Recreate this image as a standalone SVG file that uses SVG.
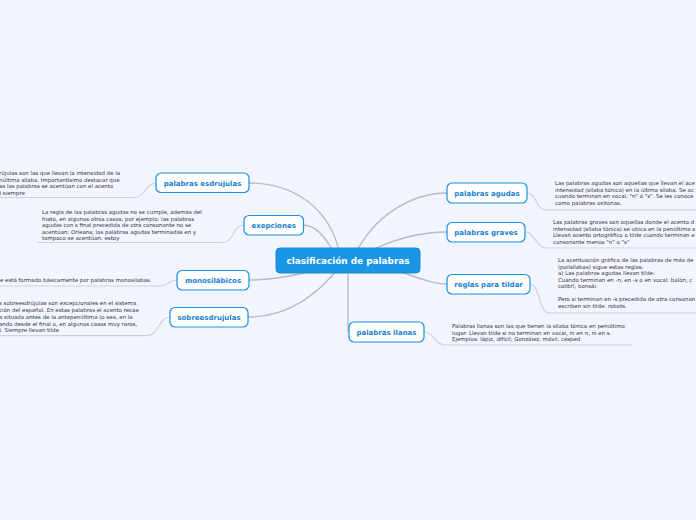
<svg xmlns="http://www.w3.org/2000/svg" width="696" height="520" viewBox="0 0 696 520">
<style>
.bg{fill:#f3f5fe}
.conn{fill:none;stroke:#b9bac6;stroke-width:1.4}
.sub{fill:none;stroke:#cfd1dc;stroke-width:1.2}
.node rect{fill:#ffffff;stroke:#1a8fe3;stroke-width:1.2}
.node text{font-family:"DejaVu Sans",Verdana,sans-serif;font-size:7px;font-weight:bold;fill:#1a7fd4;text-anchor:middle}
.root rect{fill:#1b96e6;stroke:#1a8ad6;stroke-width:1}
.root text{font-family:"DejaVu Sans",Verdana,sans-serif;font-size:8.9px;font-weight:bold;fill:#ffffff;text-anchor:middle}
.note{font-family:"DejaVu Sans",Verdana,sans-serif;font-size:5.45px;fill:#333340}
</style>
<rect class="bg" x="0" y="0" width="696" height="520"/>
<g id="connectors">
<path class="conn" d="M340,255 C330,205 290,183 249,183"/>
<path class="conn" d="M335,255 C325,235 315,225 303,225"/>
<path class="conn" d="M330,266 C300,275 270,280 249,280"/>
<path class="conn" d="M340,266 C320,292 290,317 248,317"/>
<path class="conn" d="M355,255 C372,218 410,193 447,193"/>
<path class="conn" d="M362,255 C390,240 420,232 447,232"/>
<path class="conn" d="M362,262 C400,268 425,284 447,284"/>
<path class="conn" d="M348,262 L348,332"/>
<path class="sub" d="M156,183 C145,183 146,197.5 134,197.5 L0,197.5"/>
<path class="sub" d="M244,225 C232,225 235,242.5 222,242.5 L37,242.5"/>
<path class="sub" d="M177,280 C168,280 170,286 158,286 L0,286"/>
<path class="sub" d="M170,317 C158,317 160,335.7 146,335.7 L0,335.7"/>
<path class="sub" d="M527,193 C537,193 535,210 547,210 L696,210"/>
<path class="sub" d="M525,232 C535,232 535,248 547,248 L696,248"/>
<path class="sub" d="M530,284 C540,284 538,313 550,313 L696,313"/>
<path class="sub" d="M424,332 C435,332 433,345 446,345 L632,345"/>
</g>
<g id="root" class="root">
<rect x="276" y="248" width="144" height="25" rx="4"/>
<text x="348" y="263.9">clasificación de palabras</text>
</g>
<g id="n-esdrujulas" class="node">
<rect x="156" y="173" width="93" height="19.5" rx="5"/>
<text x="202.5" y="185.5">palabras esdrujulas</text>
</g>
<g id="n-exepciones" class="node">
<rect x="244" y="215.5" width="59.5" height="19.5" rx="5"/>
<text x="273.7" y="228">exepciones</text>
</g>
<g id="n-monosilabicos" class="node">
<rect x="177" y="270.5" width="72" height="19.5" rx="5"/>
<text x="213" y="283">monosilábicos</text>
</g>
<g id="n-sobreesdrujulas" class="node">
<rect x="170" y="307.5" width="78" height="19.5" rx="5"/>
<text x="209" y="320">sobreesdrujulas</text>
</g>
<g id="n-agudas" class="node">
<rect x="447" y="183" width="80" height="20" rx="5"/>
<text x="487" y="195.5">palabras agudas</text>
</g>
<g id="n-graves" class="node">
<rect x="447" y="222.5" width="78" height="19.5" rx="5"/>
<text x="486" y="235">palabras graves</text>
</g>
<g id="n-reglas" class="node">
<rect x="447" y="274.5" width="83" height="19.5" rx="5"/>
<text x="488.5" y="287">reglas para tildar</text>
</g>
<g id="n-llanas" class="node">
<rect x="349" y="322" width="75" height="20" rx="5"/>
<text x="386.5" y="334.5">palabras llanas</text>
</g>
<g id="t-esdrujulas" class="note">
<text x="-1" y="174.8">rújulas son las que llevan la intensidad de la</text>
<text x="-1" y="181.6">núltima sílaba. Importantísimo destacar que</text>
<text x="-1" y="188.4">as las palabras se acentúan con el acento</text>
<text x="-1" y="195.2">) siempre</text>
</g>
<g id="t-exepciones" class="note">
<text x="42" y="214">La regla de las palabras agudas no se cumple, además del</text>
<text x="42" y="220.5">hiato, en algunos otros casos, por ejemplo: las palabras</text>
<text x="42" y="227">agudas con s final precedida de otra consonante no se</text>
<text x="42" y="233.5">acentúan: Orleans; las palabras agudas terminadas en y</text>
<text x="42" y="240">tampoco se acentúan: estoy</text>
</g>
<g id="t-monosilabicos" class="note">
<text x="0" y="282.2">e está formado básicamente por palabras monosílabas.</text>
</g>
<g id="t-sobreesdrujulas" class="note">
<text x="-1" y="305.2">s sobreesdrújulas son excepcionales en el sistema</text>
<text x="-1" y="312.2">ción del español. En estas palabras el acento recae</text>
<text x="-1" y="319.2">a situada antes de la antepenúltima (o sea, en la</text>
<text x="-1" y="326.2">ando desde el final o, en algunos casos muy raros,</text>
<text x="-1" y="332.4">). Siempre llevan tilde</text>
</g>
<g id="t-agudas" class="note">
<text x="555" y="185.2">Las palabras agudas son aquellas que llevan el ace</text>
<text x="555" y="191.7">intensidad (sílaba tónica) en la última sílaba. Se ac</text>
<text x="555" y="198.2">cuando terminan en vocal, "n" ó "s". Se les conoce</text>
<text x="555" y="204.7">como palabras oxitonas.</text>
</g>
<g id="t-graves" class="note">
<text x="553" y="224.2">Las palabras graves son aquellas donde el acento d</text>
<text x="553" y="230.7">intensidad (sílaba tónica) se ubica en la penúltima s</text>
<text x="553" y="237.2">Llevan acento ortográfico o tilde cuando terminan e</text>
<text x="553" y="243.7">consonante menos "n" o "s"</text>
</g>
<g id="t-reglas" class="note">
<text x="558" y="262.2">La acentuación gráfica de las palabras de más de</text>
<text x="558" y="268.7">(polisílabas) sigue estas reglas:</text>
<text x="558" y="275.2">a) Las palabras agudas llevan tilde:</text>
<text x="558" y="281.7">Cuando terminan en -n, en -s o en vocal: balón, c</text>
<text x="558" y="288.2">colibrí, bonsái.</text>
<text x="558" y="301.2">Pero si terminan en -s precedida de otra consonan</text>
<text x="558" y="307.7">escriben sin tilde: robots.</text>
</g>
<g id="t-llanas" class="note">
<text x="452" y="328.2">Palabras llanas son las que tienen la sílaba tónica en penúltimo</text>
<text x="452" y="334.7">lugar. Llevan tilde si no terminan en vocal, ni en n, ni en s.</text>
<text x="452" y="341.2">Ejemplos: lápiz, difícil, González, móvil, césped</text>
</g>
</svg>
